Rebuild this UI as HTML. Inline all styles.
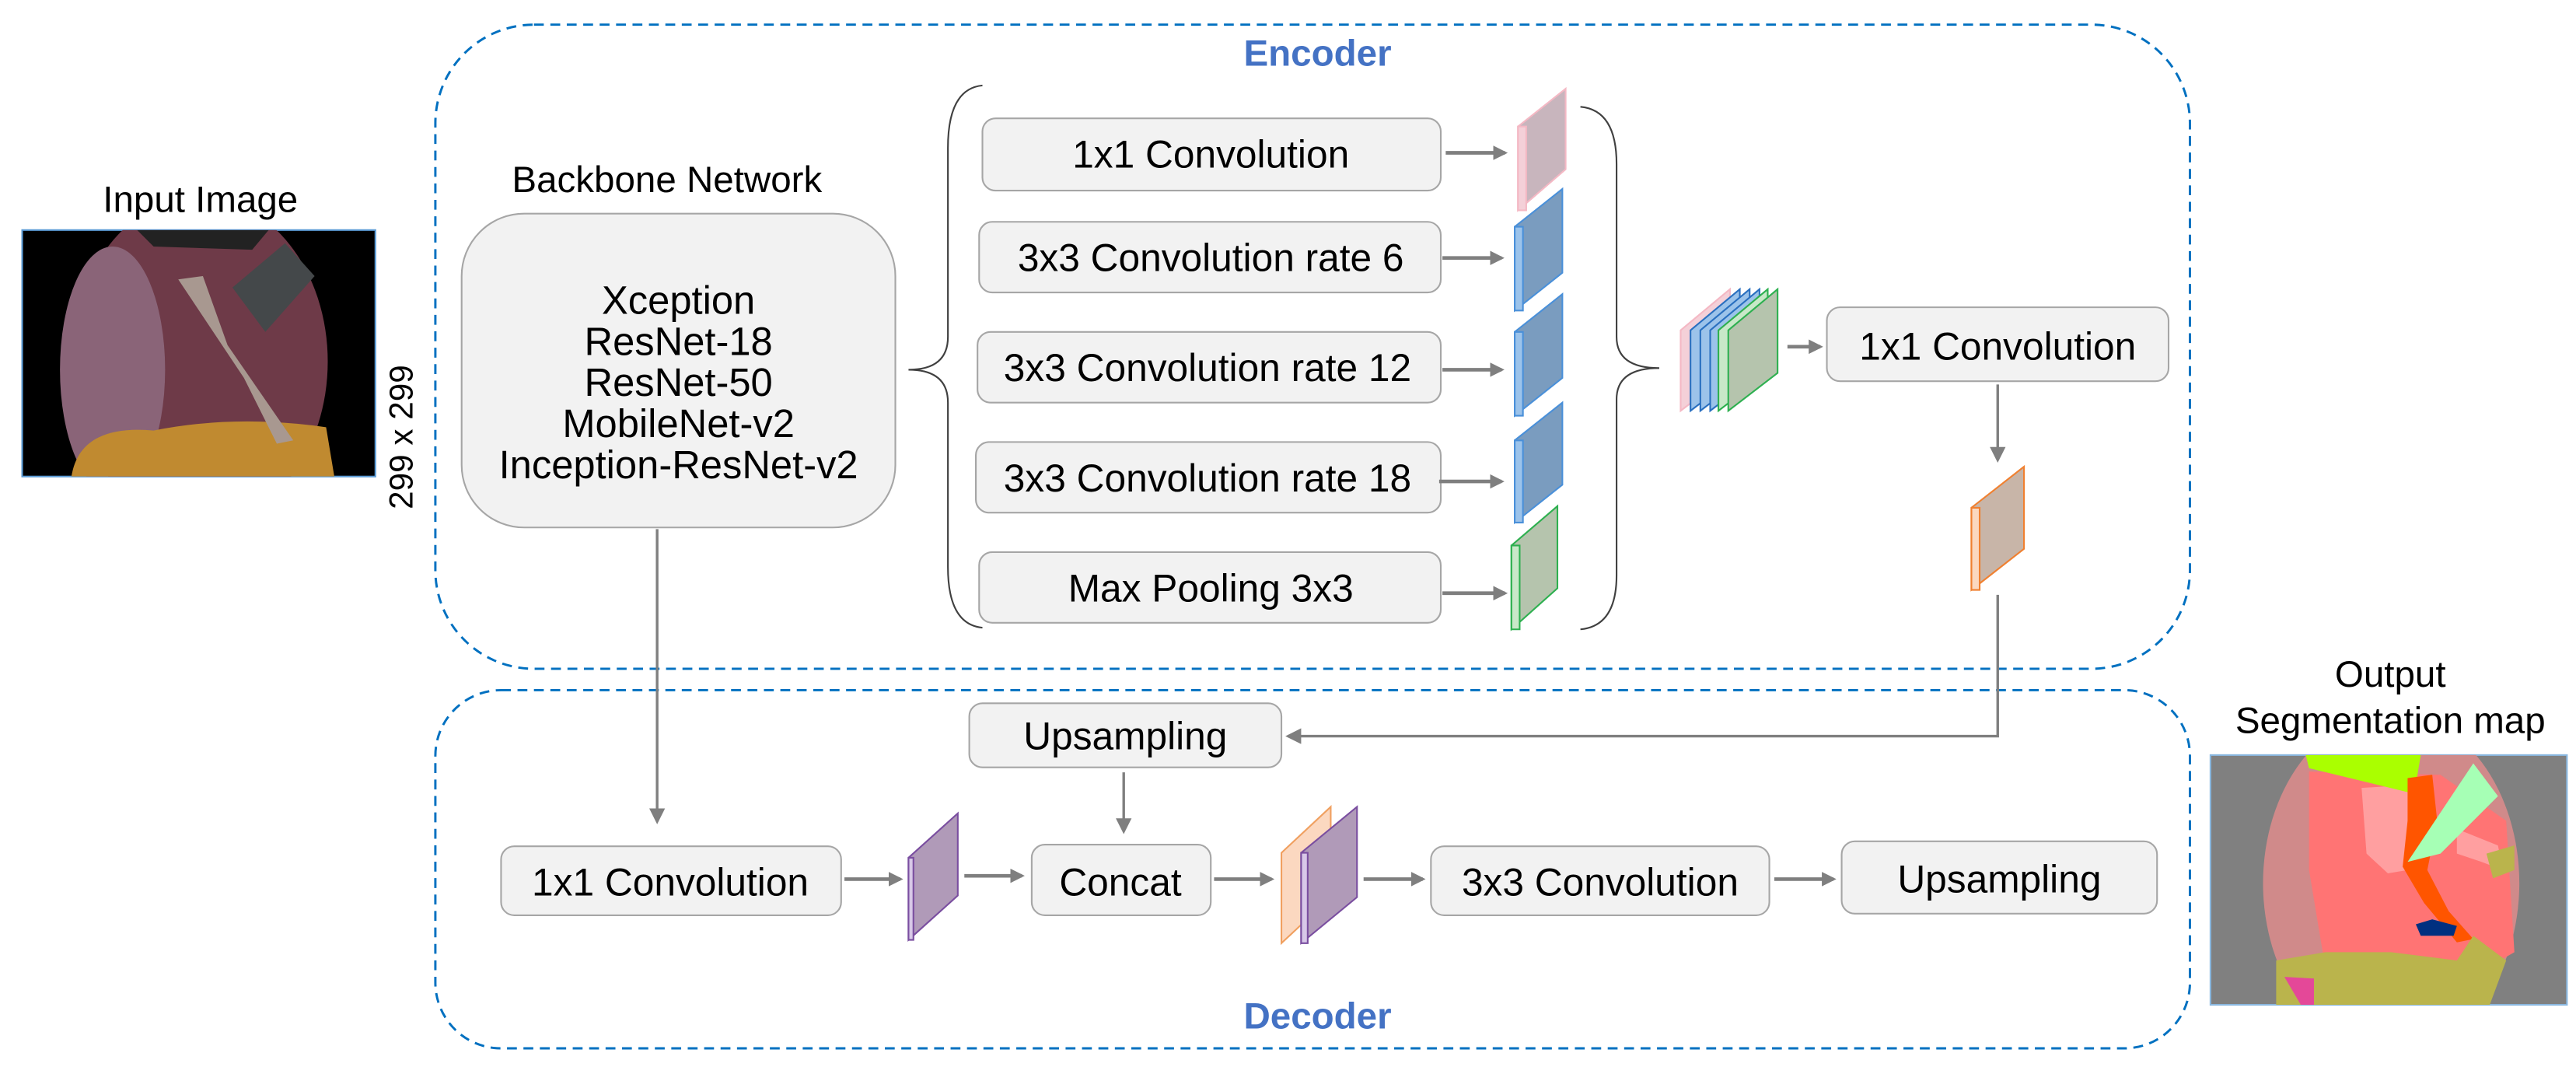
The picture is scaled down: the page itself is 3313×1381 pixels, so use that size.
<!DOCTYPE html>
<html><head><meta charset="utf-8"><style>
html,body{margin:0;padding:0;background:#fff;}
svg{display:block;}
text{font-family:"Liberation Sans",Arial,sans-serif;}
</style></head><body>
<svg width="3313" height="1381" viewBox="0 0 1568 653.6" xmlns="http://www.w3.org/2000/svg">
<defs>
<marker id="ah" markerWidth="4" markerHeight="4" refX="3.2" refY="2" orient="auto" markerUnits="strokeWidth"><path d="M0,0 L4,2 L0,4 z" fill="#7f7f7f"/></marker>
<marker id="ah2" markerWidth="6" markerHeight="6" refX="5" refY="3" orient="auto" markerUnits="strokeWidth"><path d="M0,0 L6,3 L0,6 z" fill="#7f7f7f"/></marker>
<clipPath id="segc"><rect x="0" y="0" width="217" height="152"/></clipPath>
<clipPath id="inc"><rect x="0" y="0" width="215" height="150"/></clipPath>
</defs>

<rect x="265" y="15" width="1068" height="392" rx="60" fill="none" stroke="#0070C0" stroke-width="1.4" stroke-dasharray="6,4"/>
<rect x="265" y="420" width="1068" height="218" rx="40" fill="none" stroke="#0070C0" stroke-width="1.4" stroke-dasharray="6,4"/>
<text x="802" y="40" font-size="22.5" font-weight="bold" fill="#4472C4" text-anchor="middle">Encoder</text>
<text x="802" y="626" font-size="22.5" font-weight="bold" fill="#4472C4" text-anchor="middle">Decoder</text>

<text x="122" y="129" font-size="22.5" text-anchor="middle">Input Image</text>
<g transform="translate(13.5,140)">
<rect x="0" y="0" width="215" height="150" fill="#000" stroke="#5b9bd5" stroke-width="1"/>
<g clip-path="url(#inc)">
<ellipse cx="108" cy="80" rx="78" ry="100" fill="#6e3a48"/>
<ellipse cx="55" cy="85" rx="32" ry="75" fill="#8a6478"/>
<path d="M30,150 Q35,118 80,122 Q130,112 185,120 L190,150z" fill="#c08a30"/>
<path d="M95,30 L135,90 L155,130 L165,128 L125,70 L110,28z" fill="#a89890"/>
<path d="M128,35 L160,8 L178,28 L148,62z" fill="#44484a"/>
<path d="M70,0 L150,0 L140,12 L80,10z" fill="#222"/>
</g>
</g>
<text transform="translate(251,266) rotate(-90)" font-size="20" text-anchor="middle">299 x 299</text>

<text x="406" y="117" font-size="22.5" text-anchor="middle">Backbone Network</text>
<rect x="281" y="130" width="264" height="191" rx="38" fill="#f2f2f2" stroke="#a6a6a6" stroke-width="1"/>
<g font-size="24" text-anchor="middle">
<text x="413" y="191">Xception</text>
<text x="413" y="216">ResNet-18</text>
<text x="413" y="241">ResNet-50</text>
<text x="413" y="266">MobileNet-v2</text>
<text x="413" y="291">Inception-ResNet-v2</text>
</g>

<path d="M598,52 Q577,54 577,90 L577,205 Q577,225 553,225 Q577,225 577,245 L577,345 Q577,380 598,382" fill="none" stroke="#404040" stroke-width="1"/>

<g fill="#f2f2f2" stroke="#a6a6a6" stroke-width="1">
<rect x="598" y="72" width="279" height="44" rx="8"/>
<rect x="596" y="135" width="281" height="43" rx="8"/>
<rect x="595" y="202" width="282" height="43" rx="8"/>
<rect x="594" y="269" width="283" height="43" rx="8"/>
<rect x="596" y="336" width="281" height="43" rx="8"/>
</g>
<g font-size="23.5" text-anchor="middle">
<text x="737" y="102">1x1 Convolution</text>
<text x="737" y="165">3x3 Convolution rate 6</text>
<text x="735" y="232">3x3 Convolution rate 12</text>
<text x="735" y="299">3x3 Convolution rate 18</text>
<text x="737" y="366">Max Pooling 3x3</text>
</g>
<g stroke="#7f7f7f" stroke-width="2.2" marker-end="url(#ah)">
<line x1="880" y1="93" x2="916" y2="93"/>
<line x1="878" y1="157" x2="914" y2="157"/>
<line x1="878" y1="225" x2="914" y2="225"/>
<line x1="876" y1="293" x2="914" y2="293"/>
<line x1="878" y1="361" x2="916" y2="361"/>
</g>

<g stroke-width="1">
<path d="M924,77 L953,54 L953,103 L924,128z" fill="#c8b5bd" stroke="#f4b8c4"/>
<path d="M924,77 L929,77 L929,128 L924,128z" fill="#f4d0d8" stroke="#f4b8c4"/>
<path d="M922,138 L951,115 L951,166 L922,189z" fill="#7a9cbf" stroke="#4a90d9"/>
<path d="M922,138 L927,138 L927,189 L922,189z" fill="#9cc3ea" stroke="#4a90d9"/>
<path d="M922,202 L951,179 L951,230 L922,253z" fill="#7a9cbf" stroke="#4a90d9"/>
<path d="M922,202 L927,202 L927,253 L922,253z" fill="#9cc3ea" stroke="#4a90d9"/>
<path d="M922,268 L951,245 L951,295 L922,318z" fill="#7a9cbf" stroke="#4a90d9"/>
<path d="M922,268 L927,268 L927,318 L922,318z" fill="#9cc3ea" stroke="#4a90d9"/>
<path d="M920,332 L948,308 L948,358 L920,383z" fill="#b5c4ad" stroke="#2eb050"/>
<path d="M920,332 L925,332 L925,383 L920,383z" fill="#c8e8c8" stroke="#2eb050"/>
</g>

<path d="M962,65 Q984,67 984,100 L984,205 Q984,224 1010,224 Q984,224 984,243 L984,350 Q984,381 962,383" fill="none" stroke="#404040" stroke-width="1"/>

<g stroke-width="1">
<path d="M1023,201 L1053,176 L1053,227 L1023,250z" fill="#f4d0d8" stroke="#f4b8c4"/>
<path d="M1029,201 L1059,176 L1059,227 L1029,250z" fill="#9cc3ea" stroke="#2a70c0"/>
<path d="M1035,201 L1065,176 L1065,227 L1035,250z" fill="#9cc3ea" stroke="#2a70c0"/>
<path d="M1041,201 L1071,176 L1071,227 L1041,250z" fill="#9cc3ea" stroke="#2a70c0"/>
<path d="M1046,201 L1076,176 L1076,227 L1046,250z" fill="#c8e8c8" stroke="#2eb050"/>
<path d="M1052,201 L1082,176 L1082,227 L1052,250z" fill="#b5c4ad" stroke="#2eb050"/>
</g>
<line x1="1088" y1="211" x2="1108" y2="211" stroke="#7f7f7f" stroke-width="2.2" marker-end="url(#ah)"/>
<rect x="1112" y="187" width="208" height="45" rx="8" fill="#f2f2f2" stroke="#a6a6a6" stroke-width="1"/>
<text x="1216" y="219" font-size="23.5" text-anchor="middle">1x1 Convolution</text>
<line x1="1216" y1="234" x2="1216" y2="280" stroke="#7f7f7f" stroke-width="1.6" marker-end="url(#ah2)"/>
<path d="M1200,309 L1232,284 L1232,334 L1200,359z" fill="#c8b5a8" stroke="#f08030" stroke-width="1"/>
<path d="M1200,309 L1205,309 L1205,359 L1200,359z" fill="#fbd8c0" stroke="#f08030" stroke-width="1"/>

<path d="M1216,362 L1216,448 L784,448" fill="none" stroke="#7f7f7f" stroke-width="1.6" marker-end="url(#ah2)"/>
<line x1="400" y1="322" x2="400" y2="500" stroke="#7f7f7f" stroke-width="1.6" marker-end="url(#ah2)"/>

<g fill="#f2f2f2" stroke="#a6a6a6" stroke-width="1">
<rect x="590" y="428" width="190" height="39" rx="8"/>
<rect x="305" y="515" width="207" height="42" rx="8"/>
<rect x="628" y="514" width="109" height="43" rx="8"/>
<rect x="871" y="515" width="206" height="42" rx="8"/>
<rect x="1121" y="512" width="192" height="44" rx="8"/>
</g>
<g font-size="23.5" text-anchor="middle">
<text x="685" y="456">Upsampling</text>
<text x="408" y="545">1x1 Convolution</text>
<text x="682" y="545">Concat</text>
<text x="974" y="545">3x3 Convolution</text>
<text x="1217" y="543">Upsampling</text>
</g>
<line x1="684" y1="470" x2="684" y2="506" stroke="#7f7f7f" stroke-width="1.6" marker-end="url(#ah2)"/>
<g stroke="#7f7f7f" stroke-width="2.2" marker-end="url(#ah)">
<line x1="514" y1="535" x2="548" y2="535"/>
<line x1="587" y1="533" x2="622" y2="533"/>
<line x1="739" y1="535" x2="774" y2="535"/>
<line x1="830" y1="535" x2="866" y2="535"/>
<line x1="1080" y1="535" x2="1116" y2="535"/>
</g>
<path d="M553,522 L583,495 L583,545 L553,572z" fill="#b09ab8" stroke="#7a4ea0" stroke-width="1"/>
<path d="M553,522 L556,522 L556,572 L553,572z" fill="#d8c8e8" stroke="#7a4ea0" stroke-width="1"/>
<path d="M780,519 L810,491 L810,546 L780,574z" fill="#fbd8c0" stroke="#f0a060" stroke-width="1"/>
<path d="M792,519 L826,491 L826,546 L792,574z" fill="#b09ab8" stroke="#7a4ea0" stroke-width="1"/>
<path d="M792,519 L796,519 L796,574 L792,574z" fill="#d8c8e8" stroke="#7a4ea0" stroke-width="1"/>

<text x="1455" y="418" font-size="22.5" text-anchor="middle">Output</text>
<text x="1455" y="446" font-size="22.5" text-anchor="middle">Segmentation map</text>
<g transform="translate(1345.5,459.5)">
<rect x="0" y="0" width="217" height="152" fill="#808080" stroke="#8ab8e0" stroke-width="1"/>
<g clip-path="url(#segc)">
<ellipse cx="110" cy="78" rx="78" ry="104" fill="#d08a8a"/>
<path d="M60,10 L140,12 L180,40 L185,120 L150,140 L70,130 L60,70z" fill="#ff7474"/>
<path d="M92,20 L125,18 L120,70 L108,72 L95,60z" fill="#ff9fa0"/>
<path d="M150,45 L175,55 L178,70 L165,65 L150,60z" fill="#ff9fa0"/>
<path d="M58,0 L128,0 L125,18 L135,20 L130,25 L60,8z" fill="#aaff00"/>
<path d="M120,14 L135,12 L138,40 L132,70 L145,95 L160,112 L150,114 L130,90 L117,68 L120,40z" fill="#ff5500"/>
<path d="M160,5 L175,25 L140,60 L120,65 L140,35z" fill="#a6ffb5"/>
<path d="M125,103 L135,100 L150,104 L148,110 L128,110z" fill="#003080"/>
<path d="M40,125 L70,120 L110,120 L150,125 L160,110 L180,125 L170,152 L40,152z" fill="#bab44c"/>
<path d="M168,60 L185,55 L185,70 L172,75z" fill="#bab44c"/>
<path d="M45,135 L63,136 L63,152 L55,152z" fill="#e44898"/>
</g>
</g>
</svg>
</body></html>
